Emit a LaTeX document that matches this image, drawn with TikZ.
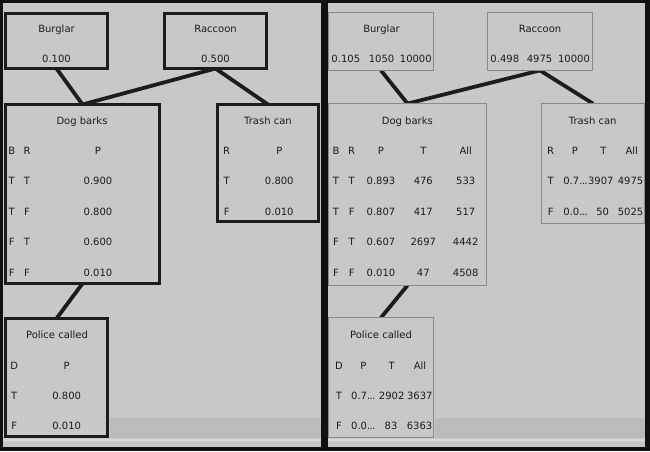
\documentclass[tikz,border=0pt]{standalone}
\usepackage{fontspec}
\setmainfont{DejaVu Sans}
\pgfdeclarelayer{bg}
\pgfdeclarelayer{edgelayer}
\pgfsetlayers{bg,edgelayer,main}
\definecolor{panel}{HTML}{C8C8C8}
\definecolor{band}{HTML}{BBBBBB}
\definecolor{ink}{HTML}{1C1C1C}
\definecolor{frame}{HTML}{111111}
\definecolor{rline}{HTML}{8A8A8A}
\newcommand{\tabfont}{\fontsize{10}{12}\selectfont}
\newcommand{\dts}{.\kern-0.6pt.\kern-0.6pt.}
\tikzset{
  lbox/.style={draw=ink, line width=3pt, fill=panel, anchor=north west, inner sep=0pt, outer sep=0pt},
  rbox/.style={draw=rline, line width=1.2pt, fill=panel, anchor=north west, inner sep=0pt, outer sep=0pt},
  txt/.style={anchor=base, inner sep=0pt, font=\tabfont, text=ink},
  link/.style={draw=ink, line width=3.8pt}
}
\begin{document}
\begin{tikzpicture}[x=1pt,y=-1pt]
\useasboundingbox (0,0) rectangle (650,451);
\begin{pgfonlayer}{bg}
  \fill[frame] (0,0) rectangle (650,451);
  \fill[panel] (3,3) rectangle (321,447);
  \fill[panel] (328,3) rectangle (645,447);
  \fill[band] (110,418) rectangle (321,438);
  \fill[band] (435,418) rectangle (645,438);
  \fill[white!30!panel] (3,438.5) rectangle (321,441);
  \fill[white!30!panel] (328,438.5) rectangle (645,441);
\end{pgfonlayer}

% ---------- left panel boxes ----------
\node[lbox, minimum width=102pt, minimum height=55pt] (lbur) at (5.5,13.5) {};
\node[lbox, minimum width=102pt, minimum height=55pt] (lrac) at (164.5,13.5) {};
\node[lbox, minimum width=154pt, minimum height=179pt] (ldog) at (5.5,104.5) {};
\node[lbox, minimum width=101pt, minimum height=117pt] (ltra) at (217.5,104.5) {};
\node[lbox, minimum width=102pt, minimum height=118pt] (lpol) at (5.5,318.5) {};

% ---------- right panel boxes ----------
\node[rbox, minimum width=104.8pt, minimum height=57.8pt] (rbur) at (328.6,12.6) {};
\node[rbox, minimum width=104.8pt, minimum height=57.8pt] (rrac) at (487.6,12.6) {};
\node[rbox, minimum width=157.8pt, minimum height=181.8pt] (rdog) at (328.6,103.6) {};
\node[rbox, minimum width=102.8pt, minimum height=119.8pt] (rtra) at (541.6,103.6) {};
\node[rbox, minimum width=104.8pt, minimum height=119.8pt] (rpol) at (328.6,317.6) {};

% ---------- connectors ----------
\begin{pgfonlayer}{edgelayer}
  \draw[link] (lbur.south) -- (ldog.north);
  \draw[link] (lrac.south) -- (ldog.north);
  \draw[link] (lrac.south) -- (ltra.north);
  \draw[link] (ldog.south) -- (lpol.north);
  \draw[link] (rbur.south) -- (rdog.north);
  \draw[link] (rrac.south) -- (rdog.north);
  \draw[link] (rrac.south) -- (rtra.north);
  \draw[link] (rdog.south) -- (rpol.north);
\end{pgfonlayer}

% ---------- left panel texts ----------
\node[txt] (lburT) at (56.5,32.5) {Burglar};
\node[txt] (lburV) at (56.5,62.5) {0.100};
\node[txt] (lracT) at (215.5,32.5) {Raccoon};
\node[txt] (lracV) at (215.5,62.5) {0.500};

\node[txt] (ldogT) at (82,124) {Dog barks};
\node[txt] (ldogHB) at (11.7,154) {B};
\node[txt] (ldogHR) at (27,154) {R};
\node[txt] (ldogHP) at (98,154) {P};
\foreach \a/\b/\p [count=\i] in {T/T/0.900, T/F/0.800, F/T/0.600, F/F/0.010}{
  \node[txt] (ldogB\i) at (11.7,154+30.5*\i) {\a};
  \node[txt] (ldogR\i) at (27,154+30.5*\i) {\b};
  \node[txt] (ldogP\i) at (98,154+30.5*\i) {\p};
}

\node[txt] (ltraT) at (268,124) {Trash can};
\node[txt] (ltraHR) at (226.7,154) {R};
\node[txt] (ltraHP) at (279.3,154) {P};
\foreach \a/\p [count=\i] in {T/0.800, F/0.010}{
  \node[txt] (ltraR\i) at (226.7,154+30.5*\i) {\a};
  \node[txt] (ltraP\i) at (279.3,154+30.5*\i) {\p};
}

\node[txt] (lpolT) at (57,338) {Police called};
\node[txt] (lpolHD) at (14.3,369) {D};
\node[txt] (lpolHP) at (66.7,369) {P};
\foreach \a/\p [count=\i] in {T/0.800, F/0.010}{
  \node[txt] (lpolD\i) at (14.3,369+30*\i) {\a};
  \node[txt] (lpolP\i) at (66.7,369+30*\i) {\p};
}

% ---------- right panel texts ----------
\node[txt] (rburT) at (381.5,32.5) {Burglar};
\node[txt] (rburV1) at (345.8,62.5) {0.105};
\node[txt] (rburV2) at (381.5,62.5) {1050};
\node[txt] (rburV3) at (415.8,62.5) {10000};
\node[txt] (rracT) at (540,32.5) {Raccoon};
\node[txt] (rracV1) at (504.8,62.5) {0.498};
\node[txt] (rracV2) at (539.5,62.5) {4975};
\node[txt] (rracV3) at (574,62.5) {10000};

\node[txt] (rdogT) at (407.3,124) {Dog barks};
\node[txt] (rdogHB) at (336,154) {B};
\node[txt] (rdogHR) at (351.7,154) {R};
\node[txt] (rdogHP) at (381,154) {P};
\node[txt] (rdogHT) at (423.3,154) {T};
\node[txt] (rdogHA) at (465.7,154) {All};
\foreach \a/\b/\p/\t/\n [count=\i] in {T/T/0.893/476/533, T/F/0.807/417/517, F/T/0.607/2697/4442, F/F/0.010/47/4508}{
  \node[txt] (rdogB\i) at (336,154+30.5*\i) {\a};
  \node[txt] (rdogR\i) at (351.7,154+30.5*\i) {\b};
  \node[txt] (rdogP\i) at (381,154+30.5*\i) {\p};
  \node[txt] (rdogTT\i) at (423.3,154+30.5*\i) {\t};
  \node[txt] (rdogA\i) at (465.7,154+30.5*\i) {\n};
}

\node[txt] (rtraT) at (592.7,124) {Trash can};
\node[txt] (rtraHR) at (550.7,154) {R};
\node[txt] (rtraHP) at (575,154) {P};
\node[txt] (rtraHT) at (603.3,154) {T};
\node[txt] (rtraHA) at (631.7,154) {All};
\node[txt] (rtraR1) at (550.7,184.5) {T};
\node[txt] (rtraP1) at (575.5,184.5) {0.7\dts};
\node[txt] (rtraT1) at (600.8,184.5) {3907};
\node[txt] (rtraA1) at (630.5,184.5) {4975};
\node[txt] (rtraR2) at (550.7,215) {F};
\node[txt] (rtraP2) at (575.5,215) {0.0\dts};
\node[txt] (rtraT2) at (602.7,215) {50};
\node[txt] (rtraA2) at (630.5,215) {5025};

\node[txt] (rpolT) at (381,338) {Police called};
\node[txt] (rpolHD) at (339,369) {D};
\node[txt] (rpolHP) at (363.3,369) {P};
\node[txt] (rpolHT) at (391.7,369) {T};
\node[txt] (rpolHA) at (420,369) {All};
\node[txt] (rpolD1) at (339,399) {T};
\node[txt] (rpolP1) at (363.3,399) {0.7\dts};
\node[txt] (rpolT1) at (391.7,399) {2902};
\node[txt] (rpolA1) at (419.8,399) {3637};
\node[txt] (rpolD2) at (339,429) {F};
\node[txt] (rpolP2) at (363.3,429) {0.0\dts};
\node[txt] (rpolT2) at (391,429) {83};
\node[txt] (rpolA2) at (419.5,429) {6363};
\end{tikzpicture}
\end{document}
